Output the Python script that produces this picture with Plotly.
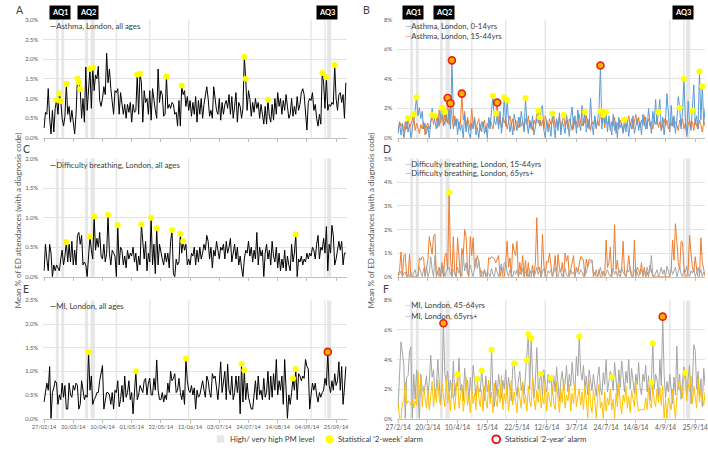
import datetime as dt
import plotly.graph_objects as go

START = dt.datetime(2014, 2, 27)

# ---------------- data (daily values, % of ED attendances) ----------------
asthma_all = [
    0.25, 0.65, 0.6, 1.25, 0.5, 0.1, 0.7, 0.15, 0.75, 0.97,
    0.6, 1.13, 0.94, 0.5, 0.3, 0.55, 1.37, 0.6, 0.8, 0.4,
    0.7, 0.35, 0.1, 0.6, 1.51, 1.41, 1.24, 0.5, 1.0, 0.4,
    1.8, 0.7, 1.2, 1.75, 0.75, 1.79, 1.2, 1.6, 1.5, 1.82,
    0.95, 0.8, 1.0, 1.3, 1.1, 2.15, 1.4, 1.75, 1.25, 0.9,
    0.6, 1.2, 1.15, 1.25, 0.6, 1.15, 0.8, 0.6, 0.85, 0.5,
    0.85, 0.65, 0.9, 0.4, 0.85, 0.65, 0.7, 1.61, 0.6, 1.63,
    1.4, 0.4, 1.2, 0.9, 1.0, 0.6, 1.2, 0.45, 1.25, 0.9,
    0.7, 0.5, 1.75, 0.9, 1.2, 1.1, 0.55, 0.6, 1.56, 0.75,
    0.85, 0.75, 0.9, 0.85, 0.6, 0.65, 0.3, 0.95, 0.3, 1.33,
    1.1, 1.2, 0.8, 1.05, 0.7, 0.95, 0.55, 0.9, 0.6, 1.05,
    0.4, 0.95, 0.6, 1.0, 0.5, 0.85, 1.15, 1.3, 1.0, 0.55,
    0.7, 0.5, 1.3, 1.05, 0.7, 0.6, 1.0, 0.45, 0.9, 0.6,
    0.85, 0.95, 0.75, 1.1, 0.6, 1.05, 0.5, 0.8, 1.15, 0.4,
    0.9, 0.8, 0.5, 0.75, 2.06, 1.5, 0.7, 1.2, 1.0, 0.55,
    0.9, 0.65, 1.0, 0.75, 0.9, 0.5, 0.85, 0.6, 0.35, 0.8,
    0.35, 0.97, 0.55, 0.4, 0.85, 0.45, 1.0, 0.6, 1.15, 0.8,
    1.0, 0.6, 0.95, 0.7, 1.1, 0.8, 0.5, 0.6, 1.0, 0.55,
    0.8, 0.6, 1.05, 0.7, 0.85, 1.15, 1.25, 1.1, 0.6, 0.2,
    0.9, 1.0, 0.95, 1.15, 0.7, 0.85, 0.5, 0.3, 0.6, 0.35,
    1.65, 1.4, 0.75, 1.54, 0.7, 0.85, 0.8, 0.9, 0.85, 1.85,
    1.0, 0.7, 1.1, 1.15, 0.9, 1.1, 0.5, 1.4,
]
asthma_all_2wk = [9, 11, 12, 16, 24, 25, 26, 33, 35, 67, 69, 88, 99, 144, 145, 161, 200, 203, 209]

asthma_0_14 = [
    0.3, 1.0, 0.2, 0.9, 0.0, 0.6, 1.1, 0.4, 0.9, 0.0,
    0.5, 1.2, 1.9, 2.75, 1.5, 2.05, 1.3, 1.8, 0.6, 1.0,
    0.3, 0.8, 0.0, 1.2, 2.0, 1.6, 1.0, 0.6, 1.4, 0.8,
    1.6, 2.05, 1.2, 0.9, 1.7, 1.0, 1.9, 0.6, 5.25, 1.5,
    0.8, 1.3, 0.2, 1.1, 0.5, 0.9, 0.0, 1.6, 0.4, 1.2,
    0.3, 0.0, 1.0, 0.6, 1.3, 0.2, 0.7, 0.0, 0.9, 0.4,
    1.1, 0.3, 0.8, 0.0, 1.4, 0.6, 1.9, 2.85, 1.2, 0.9,
    1.5, 0.6, 1.8, 0.3, 1.1, 2.75, 0.8, 2.55, 1.3, 0.4,
    1.0, 0.2, 1.6, 0.9, 0.5, 1.4, 0.7, 1.8, 1.1, 0.4,
    2.7, 1.0, 0.3, 1.2, 0.6, 1.5, 0.2, 0.9, 1.3, 1.85,
    0.8, 2.0, 2.2, 0.5, 0.0, 1.2, 0.4, 0.9, 0.1, 1.65,
    0.6, 0.0, 1.3, 0.5, 1.7, 0.2, 1.1, 0.8, 0.3, 1.6,
    0.9, 0.1, 1.4, 2.1, 0.6, 1.5, 0.3, 1.9, 1.0, 0.5,
    2.2, 0.8, 1.75, 0.4, 1.3, 0.6, 2.7, 0.9, 0.2, 1.5,
    0.7, 1.2, 2.0, 4.9, 0.6, 1.9, 1.0, 1.75, 0.4, 1.5,
    0.8, 0.2, 1.6, 0.5, 1.1, 0.0, 1.4, 0.7, 1.0, 0.3,
    0.9, 0.4, 1.2, 0.1, 1.0, 0.6, 1.5, 0.3, 0.8, 1.3,
    0.5, 1.1, 0.2, 1.6, 0.8, 1.4, 0.6, 2.0, 1.1, 0.3,
    1.8, 1.0, 2.6, 0.9, 1.75, 2.6, 0.5, 1.4, 0.2, 1.2,
    3.0, 1.6, 0.4, 2.2, 0.8, 1.5, 0.3, 1.2, 2.8, 2.05,
    0.6, 1.8, 4.0, 1.4, 0.2, 2.5, 1.0, 0.5, 1.85, 3.6,
    0.9, 1.5, 0.6, 4.5, 1.2, 3.5, 1.0, 2.0,
]
asthma_0_14_2wk = [13, 31, 67, 75, 77, 90, 99, 109, 132, 147, 184, 199, 202, 208, 213, 215]
asthma_0_14_2yr = [38, 143]

asthma_15_44 = [
    0.5, 1.1, 0.8, 1.0, 0.4, 1.1, 0.6, 1.35, 0.7, 0.9,
    1.2, 1.6, 0.5, 1.0, 0.7, 0.3, 0.9, 0.6, 1.1, 0.2,
    0.8, 1.0, 0.6, 1.2, 1.55, 0.9, 1.5, 1.3, 0.7, 1.9,
    1.0, 1.6, 0.8, 1.75, 1.1, 2.7, 0.9, 2.35, 1.2, 0.6,
    1.5, 0.8, 1.3, 0.6, 1.0, 3.0, 1.2, 1.8, 0.7, 1.4,
    1.0, 0.5, 2.0, 0.8, 1.4, 0.6, 1.0, 1.3, 0.5, 1.1,
    0.8, 1.2, 0.4, 1.0, 0.7, 1.3, 0.9, 0.6, 1.4, 1.65,
    2.4, 0.9, 1.2, 0.7, 1.4, 1.0, 1.3, 0.6, 1.1, 1.5,
    0.9, 1.3, 0.5, 1.2, 1.0, 0.7, 1.4, 0.8, 1.1, 0.6,
    1.3, 0.9, 1.5, 0.7, 1.1, 0.5, 1.2, 0.9, 1.6, 1.0,
    1.4, 0.8, 1.2, 0.6, 1.5, 1.0, 0.7, 1.3, 0.9, 1.1,
    1.6, 0.7, 1.2, 0.9, 1.4, 0.6, 1.0, 1.55, 0.8, 1.2,
    0.6, 1.3, 1.0, 0.5, 1.4, 0.9, 1.1, 0.7, 1.6, 1.0,
    0.8, 1.3, 1.0, 1.5, 0.7, 1.2, 0.5, 1.1, 0.9, 1.4,
    0.6, 1.2, 0.8, 1.8, 1.0, 1.55, 0.7, 1.3, 0.9, 1.2,
    0.5, 1.1, 0.8, 1.4, 0.3, 1.0, 0.6, 1.2, 0.9, 0.4,
    1.25, 0.7, 1.0, 1.5, 0.8, 1.3, 0.6, 1.1, 1.6, 0.9,
    1.4, 0.7, 1.2, 0.9, 1.5, 0.6, 1.0, 1.3, 0.8, 1.1,
    0.6, 1.2, 0.9, 1.4, 0.7, 1.1, 0.5, 1.0, 1.3, 0.8,
    1.2, 0.6, 1.0, 0.8, 1.4, 0.7, 1.1, 0.9, 0.5, 1.2,
    0.8, 1.3, 0.6, 1.0, 0.1, 0.9, 1.2, 0.7, 1.1, 0.5,
    1.3, 0.8, 0.6, 1.2, 0.9, 0.4, 1.1, 0.8,
]
asthma_15_44_2wk = [7, 11, 24, 26, 33, 69, 100, 117, 143, 145, 160]
asthma_15_44_2yr = [35, 37, 45, 70]

breath_all = [
    0.1, 0.55, 0.3, 0.1, 0.55, 0.4, 0.0, 0.2, 0.1, 0.2,
    0.15, 0.1, 0.3, 0.45, 0.2, 0.35, 0.59, 0.25, 0.55, 0.25,
    0.6, 0.2, 0.45, 0.2, 0.7, 0.75, 0.55, 0.7, 0.2, 0.25,
    0.2, 0.0, 0.35, 0.68, 0.45, 0.3, 1.02, 0.45, 0.65, 0.5,
    0.75, 0.35, 0.3, 0.55, 0.25, 0.4, 1.05, 0.4, 0.2, 0.45,
    0.4, 0.35, 0.0, 0.87, 0.2, 0.5, 0.45, 0.2, 0.35, 0.15,
    0.45, 0.3, 0.4, 0.35, 0.5, 0.25, 0.4, 0.1, 0.35, 0.2,
    0.89, 0.5, 0.3, 0.6, 0.1, 0.4, 0.25, 1.0, 0.2, 0.55,
    0.05, 0.82, 0.2, 0.55, 0.4, 0.3, 0.2, 0.4, 0.25, 0.4,
    0.15, 0.6, 0.79, 0.05, 0.0, 0.3, 0.2, 0.25, 0.73, 0.4,
    0.6, 0.45, 0.55, 0.2, 0.3, 0.2, 0.4, 0.35, 0.5, 0.2,
    0.45, 0.25, 0.5, 0.3, 0.4, 0.55, 0.45, 0.7, 0.6, 0.3,
    0.5, 0.15, 0.45, 0.35, 0.6, 0.4, 0.3, 0.5, 0.45, 0.55,
    0.3, 0.6, 0.4, 0.5, 0.65, 0.25, 0.45, 0.55, 0.3, 0.5,
    0.2, 0.35, 0.15, 0.0, 0.3, 0.45, 0.4, 0.6, 0.35, 0.5,
    0.25, 0.45, 0.3, 0.75, 0.2, 0.5, 0.35, 0.45, 0.0, 0.4,
    0.55, 0.3, 0.45, 0.2, 0.6, 0.35, 0.25, 0.5, 0.15, 0.4,
    0.1, 0.3, 0.15, 0.45, 0.1, 0.35, 0.2, 0.1, 0.55, 0.25,
    0.4, 0.72, 0.0, 0.3, 0.25, 0.35, 0.2, 0.3, 0.25, 0.4,
    0.3, 0.4, 0.35, 0.5, 0.45, 0.3, 0.55, 0.7, 0.3, 0.5,
    0.45, 0.65, 0.4, 0.85, 0.1, 0.55, 0.4, 0.87, 0.7, 0.2,
    0.3, 0.5, 0.6, 0.45, 0.6, 0.2, 0.4, 0.4,
]
breath_all_2wk = [16, 33, 36, 46, 53, 70, 77, 81, 92, 98, 100, 181]

breath_15_44 = [
    0.2, 0.1, 0.25, 0.0, 0.15, 0.2, 0.0, 0.1, 0.0, 0.2,
    0.0, 0.15, 0.3, 0.0, 0.1, 0.4, 0.2, 0.0, 0.35, 0.1,
    0.45, 0.0, 0.2, 0.85, 0.3, 0.0, 0.9, 0.1, 0.25, 0.0,
    0.3, 0.15, 0.45, 0.0, 0.2, 0.35, 0.4, 0.1, 0.0, 0.3,
    0.2, 0.0, 0.4, 0.15, 0.3, 0.0, 0.9, 0.25, 0.6, 0.1,
    0.3, 0.5, 0.2, 0.0, 0.4, 0.8, 0.35, 0.7, 0.0, 0.25,
    0.1, 0.3, 0.0, 0.2, 0.15, 0.0, 0.35, 0.1, 0.0, 0.4,
    0.2, 0.0, 0.3, 0.55, 0.1, 0.6, 0.65, 0.2, 0.0, 0.3,
    0.15, 0.0, 0.25, 0.1, 0.3, 0.0, 0.2, 0.1, 0.35, 0.0,
    0.2, 0.15, 0.0, 0.3, 0.1, 0.25, 0.0, 0.15, 0.4, 0.1,
    0.3, 0.0, 0.2, 0.35, 0.1, 0.0, 0.25, 0.15, 0.3, 0.0,
    0.2, 0.4, 0.1, 0.0, 0.3, 0.2, 0.0, 0.15, 0.35, 0.1,
    0.0, 0.25, 0.3, 0.1, 0.2, 0.0, 0.4, 0.15, 0.1, 0.3,
    0.2, 0.0, 0.35, 0.15, 0.45, 0.55, 0.65, 0.7, 0.2, 0.1,
    0.3, 0.0, 0.2, 0.4, 0.1, 0.25, 0.0, 0.15, 0.3, 0.1,
    0.0, 0.2, 0.35, 0.1, 0.25, 0.0, 0.3, 0.15, 0.4, 0.2,
    0.1, 0.0, 0.3, 0.2, 0.45, 0.1, 0.0, 0.25, 0.35, 0.15,
    0.0, 0.2, 0.3, 0.1, 0.25, 0.0, 0.4, 0.15, 0.2, 0.9,
    0.1, 0.0, 0.2, 0.3, 0.0, 0.15, 0.4, 0.1, 0.3, 0.0,
    0.45, 0.2, 0.0, 0.35, 0.1, 0.25, 0.4, 0.0, 0.3, 0.45,
    0.1, 0.0, 0.3, 0.2, 0.45, 0.1, 0.0, 0.25, 0.15, 0.35,
    0.0, 0.2, 0.4, 0.1, 0.3, 0.0, 0.2, 0.1,
]

breath_65 = [
    0.0, 0.3, 1.05, 0.0, 0.9, 0.95, 0.0, 0.0, 0.95, 0.0,
    0.0, 0.0, 0.0, 0.0, 0.0, 0.8, 0.7, 0.85, 0.8, 0.0,
    0.45, 0.7, 1.7, 1.3, 0.95, 1.7, 1.8, 0.0, 0.2, 0.4,
    0.0, 0.6, 0.0, 0.9, 1.0, 0.3, 3.57, 0.8, 0.0, 1.7,
    0.1, 0.0, 1.65, 0.6, 0.0, 1.2, 0.9, 2.0, 1.7, 0.4,
    0.0, 1.7, 0.9, 1.65, 0.3, 0.6, 0.9, 0.6, 0.2, 0.0,
    0.0, 0.3, 0.0, 0.0, 0.8, 0.75, 0.85, 0.8, 0.75, 0.6,
    0.8, 0.9, 0.0, 0.4, 0.0, 0.0, 0.6, 1.5, 0.4, 0.8,
    0.0, 1.4, 1.1, 0.9, 1.5, 0.0, 0.6, 0.1, 0.9, 0.0,
    0.7, 0.0, 0.6, 0.0, 0.0, 0.5, 0.0, 0.6, 2.5, 0.3,
    0.4, 0.0, 1.8, 0.5, 0.0, 0.65, 0.6, 1.0, 0.5, 0.0,
    0.3, 0.9, 0.0, 0.95, 0.4, 0.2, 0.6, 0.0, 1.0, 0.65,
    0.9, 0.0, 0.3, 0.55, 0.9, 0.0, 0.4, 0.2, 0.6, 0.85,
    0.8, 0.7, 0.0, 0.75, 0.4, 0.75, 0.7, 0.7, 0.0, 0.2,
    0.0, 0.0, 0.3, 0.0, 0.0, 0.2, 0.0, 1.55, 0.4, 0.6,
    1.25, 0.0, 0.4, 2.2, 0.3, 0.7, 0.1, 0.0, 0.3, 1.5,
    0.2, 0.0, 0.3, 0.9, 0.3, 0.0, 0.0, 1.55, 0.0, 0.4,
    0.3, 0.1, 0.6, 0.0, 0.4, 0.0, 0.2, 0.0, 0.5, 0.3,
    0.0, 0.0, 0.0, 0.0, 0.0, 0.0, 0.0, 0.0, 0.0, 0.0,
    0.0, 0.0, 0.0, 0.3, 1.55, 0.7, 2.25, 1.5, 0.6, 0.3,
    1.5, 1.45, 0.4, 0.0, 0.0, 0.3, 1.75, 1.0, 0.4, 0.2,
    0.85, 0.3, 0.0, 0.0, 1.65, 0.6, 0.3, 0.0,
]
breath_65_2wk = [36]

mi_all = [
    0.35, 0.55, 0.75, 0.6, 1.1, 0.0, 0.55, 0.65, 0.8, 0.75,
    0.3, 0.5, 0.4, 0.75, 0.45, 0.7, 0.2, 0.2, 0.75, 0.5,
    0.45, 0.7, 0.6, 0.75, 0.7, 0.2, 0.3, 0.8, 0.55, 0.4,
    0.5, 0.45, 1.41, 0.6, 0.9, 0.3, 0.4, 0.45, 0.55, 0.55,
    0.8, 1.0, 1.12, 0.2, 0.35, 0.55, 0.55, 0.5, 0.3, 0.55,
    0.2, 0.6, 0.55, 0.8, 0.25, 0.4, 0.7, 0.35, 0.9, 0.45,
    0.55, 0.8, 0.4, 0.55, 0.1, 0.6, 1.0, 0.4, 0.5, 0.7,
    0.6, 0.55, 0.8, 0.85, 0.5, 0.75, 0.85, 0.5, 0.5, 0.85,
    0.6, 1.24, 0.6, 0.4, 0.4, 0.55, 0.35, 0.5, 0.4, 0.75,
    0.55, 1.0, 0.8, 0.85, 0.95, 0.55, 0.6, 0.85, 0.55, 0.4,
    0.6, 0.3, 1.27, 0.8, 0.6, 0.55, 0.7, 0.5, 0.65, 0.2,
    0.6, 0.45, 0.5, 0.65, 0.8, 0.6, 0.45, 0.9, 0.8, 0.55,
    0.45, 0.95, 0.85, 0.9, 0.6, 0.4, 0.75, 1.2, 0.55, 0.85,
    1.0, 0.4, 1.15, 0.6, 0.5, 0.9, 0.4, 0.55, 0.9, 0.55,
    0.9, 0.1, 1.16, 0.35, 1.02, 0.4, 0.75, 0.45, 0.3, 0.2,
    0.2, 0.6, 0.8, 0.4, 0.9, 0.5, 0.6, 0.4, 0.85, 0.45,
    0.55, 1.0, 0.4, 0.9, 0.45, 0.95, 0.6, 1.25, 0.5, 0.8,
    0.6, 0.9, 0.3, 1.25, 0.45, 0.0, 0.5, 0.3, 0.55, 0.85,
    0.6, 1.05, 0.4, 0.95, 0.9, 0.8, 0.9, 0.85, 1.25, 1.1,
    1.05, 0.2, 0.5, 0.75, 0.6, 0.75, 0.5, 0.35, 0.55, 0.45,
    0.55, 0.6, 0.85, 0.7, 1.41, 0.7, 0.55, 0.8, 0.6, 0.95,
    0.7, 0.8, 1.2, 0.6, 1.1, 0.3, 0.65, 1.1,
]
mi_all_2wk = [32, 66, 102, 142, 144, 179, 181]
mi_all_2yr = [204]

mi_45_64 = [
    1.0, 0.0, 0.0, 1.1, 1.2, 2.5, 1.0, 1.2, 1.1, 0.9,
    1.3, 0.7, 1.2, 0.9, 3.2, 1.4, 2.7, 0.8, 2.2, 1.6,
    0.7, 1.9, 0.6, 1.5, 2.5, 0.8, 2.0, 1.1, 2.6, 1.3,
    0.9, 2.3, 1.5, 0.8, 2.7, 1.0, 1.8, 0.5, 2.4, 1.2,
    0.6, 1.9, 3.0, 0.7, 1.6, 2.2, 0.5, 1.3, 2.8, 0.9,
    1.5, 0.4, 2.1, 1.0, 1.7, 0.6, 2.7, 1.4, 0.8, 1.9,
    0.5, 2.2, 1.2, 0.7, 2.6, 1.0, 1.8, 0.4, 2.4, 1.3,
    0.8, 2.0, 1.1, 2.9, 0.6, 1.7, 1.0, 2.3, 0.5, 1.5,
    2.6, 0.9, 1.8, 1.2, 0.4, 2.1, 1.4, 0.7, 2.5, 1.0,
    1.6, 0.5, 2.2, 1.2, 0.8, 2.8, 1.3, 0.6, 1.9, 1.1,
    2.4, 0.7, 1.5, 1.0, 2.6, 0.5, 1.8, 1.2, 0.8, 2.2,
    1.0, 0.6, 2.5, 1.3, 0.4, 1.9, 1.1, 2.7, 0.7, 1.6,
    1.2, 2.3, 0.5, 1.7, 1.0, 2.4, 0.8, 1.5, 2.0, 0.9,
    1.8, 0.6, 2.2, 1.3, 0.0, 2.6, 1.0, 0.4, 1.9, 1.2,
    0.0, 1.5, 2.3, 0.7, 1.1, 0.0, 1.8, 0.5, 1.4, 0.9,
    2.0, 0.6, 1.3, 0.0, 1.7, 0.8, 2.4, 1.0, 0.3, 1.6,
    1.1, 2.2, 0.7, 1.5, 0.4, 1.9, 1.2, 0.8, 2.5, 1.0,
    0.5, 0.6, 0.6, 0.6, 0.6, 1.4, 0.6, 2.1, 1.0, 0.7,
    2.3, 1.2, 0.8, 2.0, 1.1, 2.1, 0.9, 2.2, 0.0, 1.3,
    0.0, 1.4, 1.0, 0.6, 2.0, 1.2, 0.0, 1.5, 2.5, 1.9,
    2.2, 1.4, 2.9, 2.6, 1.2, 2.4, 1.8, 2.9, 1.0, 2.2,
    1.5, 0.7, 2.7, 1.1, 2.0, 1.4, 0.9, 1.8,
]
mi_45_64_2wk = [42, 56]

mi_65 = [
    0.8, 3.0, 5.2, 4.5, 3.6, 0.0, 2.8, 2.9, 4.5, 4.85,
    0.0, 3.0, 1.3, 3.3, 1.5, 0.0, 3.0, 2.0, 1.8, 2.2,
    2.9, 1.6, 2.5, 4.3, 2.8, 3.3, 1.5, 2.1, 4.0, 2.2,
    1.0, 2.3, 6.45, 3.0, 2.5, 3.2, 1.8, 2.6, 1.4, 3.9,
    1.5, 2.4, 2.2, 4.1, 1.9, 2.3, 1.2, 3.4, 2.0, 2.6,
    1.3, 2.8, 1.6, 3.6, 2.2, 1.5, 2.2, 2.0, 1.8, 3.25,
    2.4, 1.2, 2.9, 1.8, 2.5, 1.4, 4.65, 2.0, 0.8, 2.6,
    1.5, 3.0, 2.2, 1.4, 2.6, 2.0, 3.3, 1.6, 2.8, 2.1,
    1.2, 3.5, 3.75, 2.3, 1.5, 2.6, 3.2, 1.9, 2.4, 1.6,
    2.8, 3.97, 5.72, 2.0, 5.43, 3.0, 1.4, 2.5, 4.8, 2.0,
    2.6, 3.04, 1.5, 3.3, 2.2, 1.8, 3.0, 2.4, 2.75, 1.6,
    2.9, 1.8, 3.5, 2.1, 1.2, 2.6, 3.2, 1.9, 2.4, 3.6,
    1.8, 3.0, 2.2, 3.8, 2.5, 2.0, 4.2, 2.9, 5.56, 3.2,
    2.6, 3.6, 2.0, 2.9, 1.6, 3.3, 2.4, 1.9, 3.0, 2.2,
    1.5, 2.8, 3.5, 2.0, 1.6, 3.1, 2.3, 4.0, 1.8, 2.5,
    3.2, 2.79, 1.9, 3.8, 2.4, 1.5, 3.3, 2.1, 3.9, 2.7,
    1.8, 3.2, 2.4, 4.0, 2.0, 3.4, 2.6, 1.7, 3.0, 2.3,
    3.8, 2.1, 1.6, 3.0, 2.5, 3.6, 1.8, 2.9, 1.2, 2.44,
    5.1, 2.0, 3.0, 2.6, 1.5, 4.0, 2.2, 6.9, 3.0, 1.4,
    2.5, 1.8, 3.0, 2.2, 1.0, 2.8, 1.6, 4.9, 2.0, 3.0,
    1.3, 2.4, 3.5, 3.1, 1.6, 2.8, 3.6, 1.0, 2.4, 5.0,
    4.6, 2.0, 3.2, 1.5, 2.7, 0.8, 3.4, 2.2,
]
mi_65_2wk = [59, 66, 82, 91, 92, 94, 101, 108, 128, 151, 179, 180, 203]
mi_65_2yr = [32, 187]

# high / very high PM days: (first day, number of days)
pm_bands = [("2014-03-08", 2), ("2014-03-12", 2), ("2014-03-29", 2), ("2014-04-02", 3),
            ("2014-04-20", 1), ("2014-05-14", 1), ("2014-06-11", 1), ("2014-09-07", 1),
            ("2014-09-17", 1), ("2014-09-19", 3)]

# ---------------- styling ----------------
FONT = "Lato"
TXT = "#404040"
TICK = "#595959"
BLACK = "#000000"
BLUE = "#5B9BD5"
ORANGE = "#ED7D31"
GREY = "#A5A5A5"
GOLD = "#FFC000"
BAND = "#E6E6E6"
W, H = 708, 457


def px(x):
    return x / W


def py(y):
    return 1 - y / H


def dates(n):
    return [START + dt.timedelta(days=i) for i in range(n)]


fig = go.Figure()

panels = [
    (1, (32, 342), (16, 136), 3.0, 0.5, ".1f"),
    (2, (393, 707), (16, 136), 8, 2, ".0f"),
    (3, (32, 342), (157, 277), 2.0, 0.5, ".1f"),
    (4, (393, 707), (157, 277), 5, 1, ".0f"),
    (5, (32, 342), (301, 421), 2.5, 0.5, ".1f"),
    (6, (393, 707), (301, 421), 8, 2, ".0f"),
]


def add_line(n, vals, color):
    s = "" if n == 1 else str(n)
    fig.add_trace(go.Scatter(x=dates(len(vals)), y=vals, mode="lines",
                             line=dict(color=color, width=1), xaxis="x" + s, yaxis="y" + s,
                             showlegend=False, hoverinfo="skip"))


def add_alarm(n, vals, idx, two_year=False):
    s = "" if n == 1 else str(n)
    d = dates(len(vals))
    if two_year:
        marker = dict(color="#FFB000", size=7, line=dict(color="#E8200C", width=1.6))
    else:
        marker = dict(color="#FFFF00", size=6, line=dict(width=0))
    fig.add_trace(go.Scatter(x=[d[i] for i in idx], y=[vals[i] for i in idx], mode="markers",
                             marker=marker, xaxis="x" + s, yaxis="y" + s,
                             showlegend=False, hoverinfo="skip"))


add_line(1, asthma_all, BLACK)
add_alarm(1, asthma_all, asthma_all_2wk)

add_line(2, asthma_15_44, ORANGE)
add_line(2, asthma_0_14, BLUE)
add_alarm(2, asthma_0_14, asthma_0_14_2wk)
add_alarm(2, asthma_15_44, asthma_15_44_2wk)
add_alarm(2, asthma_0_14, asthma_0_14_2yr, True)
add_alarm(2, asthma_15_44, asthma_15_44_2yr, True)

add_line(3, breath_all, BLACK)
add_alarm(3, breath_all, breath_all_2wk)

add_line(4, breath_65, ORANGE)
add_line(4, breath_15_44, GREY)
add_alarm(4, breath_65, breath_65_2wk)

add_line(5, mi_all, BLACK)
add_alarm(5, mi_all, mi_all_2wk)
add_alarm(5, mi_all, mi_all_2yr, True)

add_line(6, mi_65, GREY)
add_line(6, mi_45_64, GOLD)
add_alarm(6, mi_65, mi_65_2wk)
add_alarm(6, mi_45_64, mi_45_64_2wk)
add_alarm(6, mi_65, mi_65_2yr, True)

layout = dict(
    width=W, height=H, margin=dict(l=0, r=0, t=0, b=0),
    paper_bgcolor="white", plot_bgcolor="white",
    font=dict(family=FONT, color=TXT), showlegend=False,
)
shapes = []
annotations = []
for n, (xl, xr), (yt, yb), ymax, dt_, fmt in panels:
    s = "" if n == 1 else str(n)
    left = n % 2 == 1
    rng = ["2014-02-26 12:00", "2014-10-03 00:00"] if left else ["2014-02-26 08:00", "2014-10-01 22:00"]
    layout["xaxis" + s] = dict(
        domain=[px(xl), px(xr)], anchor="y" + s, type="date", range=rng,
        tick0="2014-02-27", dtick=21 * 86400000, ticks="outside", ticklen=3,
        tickcolor="#BFBFBF", showline=True, linecolor="#BFBFBF", linewidth=1,
        showgrid=False, zeroline=False, showticklabels=n >= 5, tickangle=0,
        tickformat="%d/%m/%y" if left else "%-d/%-m/%y",
        tickfont=dict(size=5.6 if left else 6.6, color=TICK, family=FONT),
    )
    layout["yaxis" + s] = dict(
        domain=[py(yb), py(yt)], anchor="x" + s, range=[0, ymax], dtick=dt_,
        tickformat=fmt, ticksuffix="%", showgrid=True, gridcolor="#E3E3E3", gridwidth=1,
        zeroline=False, showline=False, ticks="", ticklabelstandoff=4,
        tickfont=dict(size=6, color=TICK, family=FONT),
    )
    for d0, nd in pm_bands:
        t0 = dt.datetime.strptime(d0, "%Y-%m-%d") - dt.timedelta(hours=12)
        t1 = t0 + dt.timedelta(days=nd)
        shapes.append(dict(type="rect", xref="x" + s, yref="y" + s + " domain", x0=t0, x1=t1,
                           y0=0, y1=1, fillcolor=BAND, line=dict(width=0), layer="below"))

# panel legends
legend_items = [
    (38, 22, BLACK, "Asthma, London, all ages"),
    (400, 22, BLUE, "Asthma, London, 0-14yrs"),
    (400, 32, ORANGE, "Asthma, London, 15-44yrs"),
    (38, 164, BLACK, "Difficulty breathing, London, all ages"),
    (400, 162, GREY, "Difficulty breathing, London, 15-44yrs"),
    (400, 172, ORANGE, "Difficulty breathing, London, 65yrs+"),
    (38, 307, BLACK, "MI, London, all ages"),
    (400, 306, GOLD, "MI, London, 45-64yrs"),
    (400, 317, GREY, "MI, London, 65yrs+"),
]
for x, y, col, label in legend_items:
    annotations.append(dict(xref="paper", yref="paper", x=px(x), y=py(y), xanchor="left",
                            yanchor="middle", showarrow=False, borderpad=0,
                            text=f"<span style='color:{col}'>—</span>{label}",
                            font=dict(size=7.8, color=TXT, family=FONT)))

# panel letters
for x, y, t in [(3, 6, "A"), (357, 6, "B"), (10, 147, "C"), (377, 147, "D"),
                (10, 289, "E"), (377, 289, "F")]:
    annotations.append(dict(xref="paper", yref="paper", x=px(x), y=py(y), xanchor="left",
                            yanchor="middle", showarrow=False, text=t, borderpad=0,
                            font=dict(size=10.5, color=TXT, family=FONT)))

# y-axis titles
for x in (6, 366):
    annotations.append(dict(xref="paper", yref="paper", x=px(x), y=py(220), xanchor="center",
                            yanchor="middle", showarrow=False, textangle=-90,
                            text="Mean % of ED attendances (with a diagnosis code)",
                            font=dict(size=8, color=TICK, family=FONT)))

# AQ boxes
for x, t in [(49, "AQ1"), (78, "AQ2"), (321.5, "AQ3"), (409, "AQ1"), (441, "AQ2"), (684.5, "AQ3")]:
    annotations.append(dict(xref="paper", yref="paper", x=px(x), y=py(8.5), xanchor="center",
                            yanchor="middle", showarrow=False, text=f"<b>{t}</b>",
                            bgcolor="black", borderpad=2,
                            font=dict(size=7.5, color="white", family=FONT)))

# bottom key
shapes.append(dict(type="rect", xref="paper", yref="paper", x0=px(209), x1=px(216.5),
                   y0=py(445.5), y1=py(438), fillcolor=BAND, line=dict(width=0)))
shapes.append(dict(type="circle", xref="paper", yref="paper", x0=px(320), x1=px(328),
                   y0=py(446), y1=py(438), fillcolor="#FFFF00", line=dict(width=0)))
shapes.append(dict(type="circle", xref="paper", yref="paper", x0=px(490), x1=px(498),
                   y0=py(446), y1=py(438), fillcolor="white", line=dict(color="#FF0000", width=1.8)))
for x, t in [(221, "High/ very high PM level"), (332, "Statistical ‘2-week’ alarm"),
             (502, "Statistical ‘2-year’ alarm")]:
    annotations.append(dict(xref="paper", yref="paper", x=px(x), y=py(442), xanchor="left",
                            yanchor="middle", showarrow=False, borderpad=0, text=t,
                            font=dict(size=7.8, color=TXT, family=FONT)))

layout["shapes"] = shapes
layout["annotations"] = annotations
fig.update_layout(**layout)
fig.write_html("out.html", config={"displayModeBar": False},
               post_script="document.body.style.margin='0';document.body.style.padding='0';")
